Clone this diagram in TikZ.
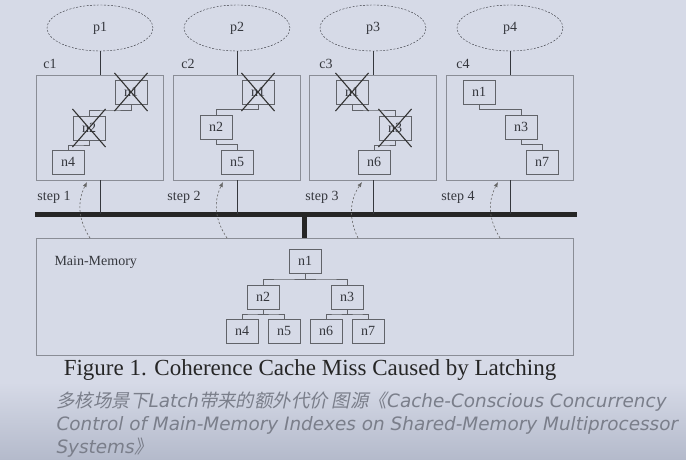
\documentclass[tikz,border=0pt]{standalone}
\usepackage{fontspec}
\setmainfont{Liberation Serif}
\newfontfamily\notefont{DejaVu Sans}
\newfontfamily\cjkfont[FakeSlant=0.2]{Noto Sans CJK SC}
\usetikzlibrary{arrows.meta,positioning,shapes.geometric,shapes.misc,calc}

\definecolor{pagebg}{HTML}{D6DAE7}
\definecolor{pagedark}{HTML}{B4BACB}
\definecolor{boxline}{HTML}{8A8D96}
\definecolor{inkgray}{HTML}{35373D}
\definecolor{notegray}{HTML}{7A7E8A}

\begin{document}
\begin{tikzpicture}[
  x=1pt, y=-1pt,
  proc/.style={ellipse, draw=inkgray, dash pattern=on 2pt off 1.5pt, minimum width=106pt, minimum height=46pt, font=\fontsize{14}{14}\selectfont, text=inkgray},
  cache/.style={draw=boxline, line width=0.8pt, minimum width=127pt, minimum height=105pt},
  tnode/.style={draw=boxline!70!black, line width=0.7pt, minimum width=32pt, minimum height=24pt, inner sep=0pt, font=\fontsize{14}{14}\selectfont, text=inkgray},
  xmark/.style={cross out, draw=black!80, line width=1.1pt, minimum width=32pt, minimum height=37pt, inner sep=0pt},
  elbow/.style={to path={|- ($(\tikztostart)!.5!(\tikztotarget)$) -| (\tikztotarget)}},
  link/.style={draw=boxline!70!black, line width=0.7pt},
  wire/.style={draw=inkgray, line width=1pt},
  bus/.style={draw=black!85, line width=5pt},
  fetch/.style={-{Latex[length=5pt,width=4pt]}, dash pattern=on 2pt off 2pt, draw=black!60, line width=0.6pt},
  lbl/.style={font=\fontsize{14}{14}\selectfont, text=inkgray},
  note/.style={anchor=west, text=notegray, font=\notefont\itshape\fontsize{18.4}{18.4}\selectfont}
]
\useasboundingbox (0,0) rectangle (686,460);
\fill[pagebg] (0,0) rectangle (686,460);
\shade[top color=pagebg, bottom color=pagedark] (0,382) rectangle (686,460);

% processors and caches
\node[proc] (p1) at (100,28) {p1};
\node[proc] (p2) at (237,28) {p2};
\node[proc] (p3) at (373,28) {p3};
\node[proc] (p4) at (510,28) {p4};
\node[cache] (cache1) at (100,127.5) {};
\node[cache] (cache2) at (237,127.5) {};
\node[cache] (cache3) at (373,127.5) {};
\node[cache] (cache4) at (510,127.5) {};
\node[lbl] (c1) at (50,64) {c1};
\node[lbl] (c2) at (188,64) {c2};
\node[lbl] (c3) at (326,64) {c3};
\node[lbl] (c4) at (463,64) {c4};

% bus
\coordinate (busL) at (35,214);
\coordinate (busR) at (577,214);
\draw[bus] (busL) -- (busR);
\foreach \i in {1,...,4} {
  \draw[wire] (p\i) -- (cache\i);
  \draw[wire] (cache\i.south) -- (cache\i.south |- busL);
}

% main memory
\node[draw=boxline, line width=0.8pt, minimum width=537pt, minimum height=117pt] (mem) at (304.5,296.5) {};
\draw[bus] (mem.north) -- (mem.north |- busL);
\node[lbl, anchor=west] (memlbl) at (51,262) {Main-Memory};
\node[tnode] (m1) at (305,261) {n1};
\node[tnode] (m2) at (263,297) {n2};
\node[tnode] (m3) at (347,297) {n3};
\node[tnode] (m4) at (242,331) {n4};
\node[tnode] (m5) at (284,331) {n5};
\node[tnode] (m6) at (326,331) {n6};
\node[tnode] (m7) at (368,331) {n7};
\draw[link] (m1.south) to[elbow] (m2.north);
\draw[link] (m1.south) to[elbow] (m3.north);
\draw[link] (m2.south) to[elbow] (m4.north);
\draw[link] (m2.south) to[elbow] (m5.north);
\draw[link] (m3.south) to[elbow] (m6.north);
\draw[link] (m3.south) to[elbow] (m7.north);

% cached paths
\node[tnode] (c1n1) at (131,92) {n1};
\node[tnode] (c1n2) at (89,128) {n2};
\node[tnode] (c1n4) at (68,162) {n4};
\node[tnode] (c2n1) at (258,92) {n1};
\node[tnode] (c2n2) at (216,127) {n2};
\node[tnode] (c2n5) at (237,162) {n5};
\node[tnode] (c3n1) at (352,92) {n1};
\node[tnode] (c3n3) at (395,128) {n3};
\node[tnode] (c3n6) at (374,162) {n6};
\node[tnode] (c4n1) at (479,92) {n1};
\node[tnode] (c4n3) at (521,127) {n3};
\node[tnode] (c4n7) at (542,162) {n7};
\draw[link] (c1n1.south) to[elbow] (c1n2.north);
\draw[link] (c1n2.south) to[elbow] (c1n4.north);
\draw[link] (c2n1.south) to[elbow] (c2n2.north);
\draw[link] (c2n2.south) to[elbow] (c2n5.north);
\draw[link] (c3n1.south) to[elbow] (c3n3.north);
\draw[link] (c3n3.south) to[elbow] (c3n6.north);
\draw[link] (c4n1.south) to[elbow] (c4n3.north);
\draw[link] (c4n3.south) to[elbow] (c4n7.north);

% invalidated lines
\node[xmark] (x1) at (c1n1) {};
\node[xmark] (x2) at (c1n2) {};
\node[xmark] (x3) at (c2n1) {};
\node[xmark] (x4) at (c3n1) {};
\node[xmark] (x5) at (c3n3) {};

% steps
\coordinate (s1lo) at (90,238);  \coordinate (s1hi) at (87,182);
\coordinate (s2lo) at (227,238); \coordinate (s2hi) at (223,182);
\coordinate (s3lo) at (358,238); \coordinate (s3hi) at (362,182);
\coordinate (s4lo) at (500,238); \coordinate (s4hi) at (498,182);
\foreach \i in {1,...,4}
  \draw[fetch] (s\i lo) to[bend left=30] (s\i hi);
\node[lbl] (step1) at (54,197) {step 1};
\node[lbl] (step2) at (184,197) {step 2};
\node[lbl] (step3) at (322,197) {step 3};
\node[lbl] (step4) at (458,197) {step 4};

% caption
\node[font=\fontsize{23}{23}\selectfont, text=black!85] (caption) at (310,370) {Figure 1. Coherence Cache Miss Caused by Latching};
\node[note] (note1) at (53,402)
  {{\cjkfont 多核场景下}Latch{\cjkfont 带来的额外代价 图源《}Cache-Conscious Concurrency};
\node[note] (note2) at (53,425)
  {Control of Main-Memory Indexes on Shared-Memory Multiprocessor};
\node[note] (note3) at (53,448)
  {Systems{\cjkfont 》}};
\end{tikzpicture}
\end{document}
